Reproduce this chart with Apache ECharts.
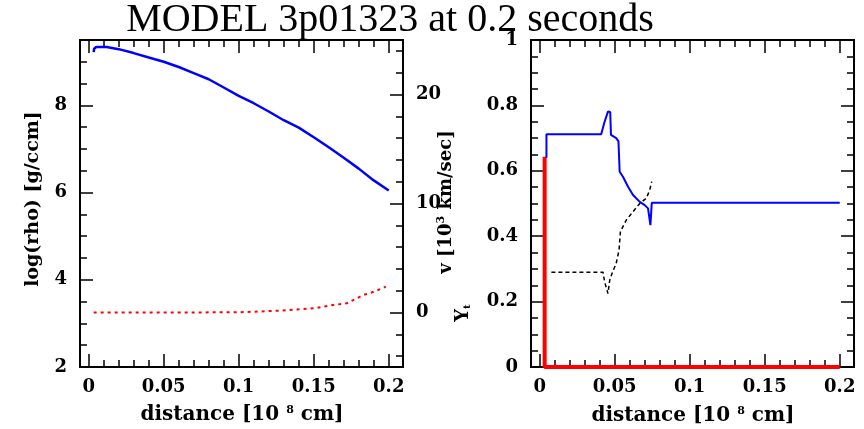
<!DOCTYPE html>
<html>
<head>
<meta charset="utf-8">
<script src="https://cdn.jsdelivr.net/npm/echarts@6/dist/echarts.min.js"></script>
<style>
  html, body { margin: 0; padding: 0; background: #fff; }
  #chart { width: 864px; height: 429px; }
</style>
</head>
<body>
<div id="chart"></div>
<script>
// left panel: log(rho) and velocity vs distance
const rhoDist = [0.0033, 0.0036, 0.005, 0.012, 0.02, 0.03, 0.04, 0.05, 0.06, 0.07, 0.08, 0.09, 0.1, 0.11, 0.12, 0.13, 0.14, 0.15, 0.16, 0.17, 0.18, 0.19, 0.2];
const logRho   = [9.22, 9.30, 9.34, 9.34, 9.29, 9.20, 9.10, 9.00, 8.88, 8.74, 8.60, 8.41, 8.22, 8.05, 7.86, 7.66, 7.49, 7.27, 7.04, 6.80, 6.55, 6.28, 6.05];
const velDist  = [0.0033, 0.05, 0.1, 0.128, 0.15, 0.163, 0.172, 0.183, 0.19, 0.198];
const velocity = [0.0, 0.0, 0.02, 0.17, 0.38, 0.69, 0.84, 1.6, 1.9, 2.37];

// right panel: Y_t (blue), dashed black and red profiles
const ytDist = [0.0045, 0.0045, 0.041, 0.043, 0.0455, 0.047, 0.0475, 0.051, 0.0525, 0.0533, 0.0533, 0.0555, 0.0589, 0.0622, 0.0667, 0.07, 0.0722, 0.0738, 0.0747, 0.0747, 0.2];
const ytVal  = [0.64, 0.712, 0.712, 0.746, 0.781, 0.78, 0.71, 0.70, 0.69, 0.69, 0.597, 0.582, 0.551, 0.526, 0.505, 0.495, 0.485, 0.434, 0.434, 0.502, 0.502];
const blkDist = [0.0078, 0.0422, 0.0433, 0.0455, 0.0467, 0.0485, 0.051, 0.0529, 0.0538, 0.0578, 0.0622, 0.0667, 0.0711, 0.0733, 0.0747];
const blkVal  = [0.29, 0.29, 0.26, 0.225, 0.266, 0.29, 0.317, 0.358, 0.414, 0.45, 0.475, 0.50, 0.516, 0.541, 0.567];
const redDist = [0.0033, 0.0033, 0.2];
const redVal  = [0.643, 0.0, 0.0];

// tick labels
const xLabels = [0, 0.05, 0.1, 0.15, 0.2];
const rhoLabels = [2, 4, 6, 8];
const velLabels = [0, 10, 20];
const ytLabels = [0, 0.2, 0.4, 0.6, 0.8, 1];

function steps(a, b, d) {
  const out = [];
  for (let v = a; v <= b + d / 1000; v += d) out.push(+v.toFixed(4));
  return out;
}

const labelFont = { color: '#000', fontFamily: 'DejaVu Serif', fontWeight: 'bold', fontSize: 18 };

function axis(grid, pos, min, max, ticks, len, labels, margin) {
  return {
    type: 'value', gridIndex: grid, position: pos, min: min, max: max,
    splitLine: { show: false },
    axisLine: { show: true, onZero: false, lineStyle: { color: '#000', width: 2 } },
    axisTick: { show: true, inside: true, length: len, customValues: ticks, lineStyle: { color: '#000', width: 1.5 } },
    axisLabel: labels ? Object.assign({ show: true, customValues: labels, margin: margin, formatter: v => String(v) }, labelFont) : { show: false }
  };
}

const xMin = -0.0058, xMax = 0.2095;
const xMinor = steps(0, 0.2, 0.01);
const supStyle = { fontSize: 11, fontWeight: 'bold', fontFamily: 'DejaVu Serif', verticalAlign: 'top', padding: [0, 0, 9, 0] };

const chart = echarts.init(document.getElementById('chart'));
const option = {
  animation: false,
  grid: [
    { left: 80, top: 40, width: 323, height: 327 },
    { left: 531, top: 40, width: 323, height: 327 }
  ],
  xAxis: [
    axis(0, 'bottom', xMin, xMax, xLabels, 13, xLabels, 11),
    axis(0, 'bottom', xMin, xMax, xMinor, 7),
    axis(0, 'top', xMin, xMax, xLabels, 13),
    axis(0, 'top', xMin, xMax, xMinor, 7),
    axis(1, 'bottom', xMin, xMax, xLabels, 13, xLabels, 11),
    axis(1, 'bottom', xMin, xMax, xMinor, 7),
    axis(1, 'top', xMin, xMax, xLabels, 13),
    axis(1, 'top', xMin, xMax, xMinor, 7)
  ],
  yAxis: [
    axis(0, 'left', 2, 9.5, rhoLabels, 13, rhoLabels, 13),
    axis(0, 'left', 2, 9.5, steps(2, 9.5, 0.5), 7),
    axis(0, 'right', -5, 25, velLabels, 13, velLabels, 13),
    axis(0, 'right', -5, 25, steps(-4, 24, 2), 7),
    axis(1, 'left', 0, 1, ytLabels, 13, ytLabels, 13),
    axis(1, 'left', 0, 1, steps(0, 1, 0.05), 7),
    axis(1, 'right', 0, 1, ytLabels, 13),
    axis(1, 'right', 0, 1, steps(0, 1, 0.05), 7)
  ],
  series: [
    {
      type: 'line', xAxisIndex: 0, yAxisIndex: 0, showSymbol: false, symbol: 'none',
      data: rhoDist.map((x, i) => [x, logRho[i]]),
      lineStyle: { color: '#0000ff', width: 2.5 }
    },
    {
      type: 'line', xAxisIndex: 0, yAxisIndex: 2, showSymbol: false, symbol: 'none',
      data: velDist.map((x, i) => [x, velocity[i]]),
      lineStyle: { color: '#ff0000', width: 2, type: [3, 4] }
    },
    {
      type: 'line', xAxisIndex: 4, yAxisIndex: 4, showSymbol: false, symbol: 'none',
      data: redDist.map((x, i) => [x, redVal[i]]),
      lineStyle: { color: '#ff0000', width: 4 }
    },
    {
      type: 'line', xAxisIndex: 4, yAxisIndex: 4, showSymbol: false, symbol: 'none',
      data: blkDist.map((x, i) => [x, blkVal[i]]),
      lineStyle: { color: '#000', width: 1.5, type: [4, 3] }
    },
    {
      type: 'line', xAxisIndex: 4, yAxisIndex: 4, showSymbol: false, symbol: 'none',
      data: ytDist.map((x, i) => [x, ytVal[i]]),
      lineStyle: { color: '#0000ff', width: 2 }
    }
  ],
  graphic: [
    {
      type: 'text', x: 390, y: 20,
      style: { text: 'MODEL 3p01323 at 0.2 seconds', fill: '#000', align: 'center', verticalAlign: 'middle', font: '40px "Liberation Serif"' }
    },
    {
      type: 'text', x: 242, y: 415,
      style: {
        text: 'distance [10 {s|8} cm]', fill: '#000', align: 'center', verticalAlign: 'middle',
        font: 'bold 20px "DejaVu Serif"', rich: { s: supStyle }
      }
    },
    {
      type: 'text', x: 693, y: 416,
      style: {
        text: 'distance [10 {s|8} cm]', fill: '#000', align: 'center', verticalAlign: 'middle',
        font: 'bold 20px "DejaVu Serif"', rich: { s: supStyle }
      }
    },
    {
      type: 'text', x: 33, y: 199, rotation: Math.PI / 2,
      style: { text: 'log(rho) [g/ccm]', fill: '#000', align: 'center', verticalAlign: 'middle', font: 'bold 19px "DejaVu Serif"' }
    },
    {
      type: 'text', x: 446, y: 202, rotation: Math.PI / 2,
      style: {
        text: 'v [10{s|3} km/sec]', fill: '#000', align: 'center', verticalAlign: 'middle',
        font: 'bold 18px "DejaVu Serif"', rich: { s: supStyle }
      }
    },
    {
      type: 'text', x: 463, y: 313, rotation: Math.PI / 2,
      style: {
        text: 'Y{t|t}', fill: '#000', align: 'center', verticalAlign: 'middle',
        font: 'bold 18px "DejaVu Serif"',
        rich: { t: { fontSize: 10, fontWeight: 'bold', fontFamily: 'DejaVu Serif', verticalAlign: 'bottom', padding: [9, 0, 0, 0] } }
      }
    }
  ]
};
chart.setOption(option);
</script>
</body>
</html>
